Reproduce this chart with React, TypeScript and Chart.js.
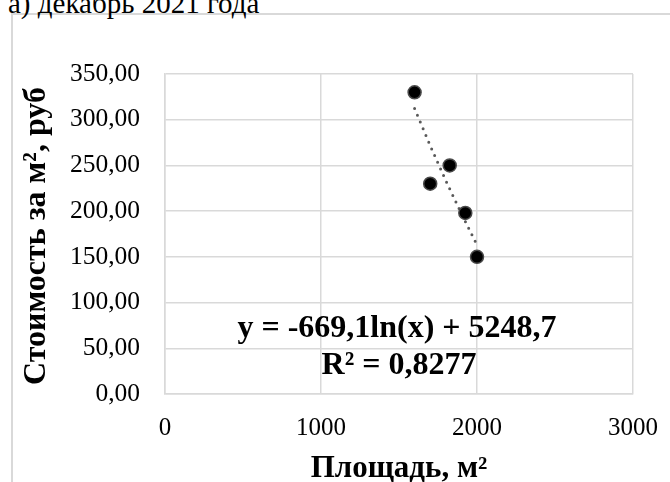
import React, { useEffect, useRef } from "react";
import { Chart, registerables } from "chart.js";

Chart.register(...registerables);

const titleText = "а) декабрь 2021 года";
const xTitle = "Площадь, м²";
const yTitle = "Стоимость за м², руб";
const equationLines = ["y = -669,1ln(x) + 5248,7", "R² = 0,8277"];

const areaX = [1600, 1700, 1825, 1925, 2000];
const priceY = [330, 230, 250, 198, 150];

const trendX = [1600, 1700, 1800, 1900, 2000];
const trendY = [312.2, 271.7, 233.4, 197.3, 162.9];

const xTicks = [0, 1000, 2000, 3000];
const yTicks = [0, 50, 100, 150, 200, 250, 300, 350];

const SERIF = "'Liberation Serif', 'Times New Roman', serif";
const GRID = "#d9d9d9";

const textPlugin = {
  id: "textPlugin",
  afterDraw(chart: any) {
    const { ctx, chartArea } = chart;
    const cx = (chartArea.left + chartArea.right) / 2;
    ctx.save();
    ctx.fillStyle = "#000";
    ctx.textAlign = "center";
    ctx.textBaseline = "alphabetic";
    // x title
    ctx.font = `bold 31px ${SERIF}`;
    ctx.fillText(xTitle, cx, 477);
    // y title
    ctx.save();
    ctx.translate(45, (chartArea.top + chartArea.bottom) / 2 + 2);
    ctx.rotate(-Math.PI / 2);
    ctx.font = `bold 32px ${SERIF}`;
    ctx.fillText(yTitle, 0, 0);
    ctx.restore();
    // equation
    ctx.font = `bold 32px ${SERIF}`;
    ctx.fillText(equationLines[0], cx - 2, 337);
    ctx.fillText(equationLines[1], cx, 374);
    ctx.restore();
  },
};

export default function App() {
  const ref = useRef<HTMLCanvasElement | null>(null);

  useEffect(() => {
    if (!ref.current) return;
    const chart = new Chart(ref.current, {
      type: "scatter",
      data: {
        datasets: [
          {
            label: "trend",
            data: trendX.map((x, i) => ({ x, y: trendY[i] })),
            showLine: true,
            borderColor: "#595959",
            borderWidth: 3,
            borderDash: [0, 7.3],
            borderCapStyle: "round",
            pointRadius: 0,
            fill: false,
            order: 2,
          } as any,
          {
            label: "data",
            data: areaX.map((x, i) => ({ x, y: priceY[i] })),
            backgroundColor: "#000",
            borderColor: "#4a4a4a",
            borderWidth: 1.5,
            pointRadius: 6.5,
            order: 1,
          },
        ],
      },
      options: {
        responsive: false,
        animation: false,
        layout: { padding: { left: 0, right: 37, top: 74, bottom: 0 } },
        plugins: {
          legend: { display: false },
          tooltip: { enabled: false },
        },
        scales: {
          x: {
            type: "linear",
            min: 0,
            max: 3000,
            afterFit(scale: any) {
              scale.height = 88;
              scale.paddingRight = 0;
              scale.paddingLeft = 0;
            },
            afterBuildTicks(scale: any) {
              scale.ticks = xTicks.map((v) => ({ value: v }));
            },
            ticks: {
              padding: 19,
              color: "#000",
              font: { family: SERIF, size: 25 },
              maxRotation: 0,
              callback: (v: any) => String(v),
            },
            grid: { color: GRID, lineWidth: 1.5, drawTicks: false },
            border: { color: GRID, width: 1.5 },
          },
          y: {
            type: "linear",
            min: 0,
            max: 350,
            afterFit(scale: any) {
              scale.width = 165;
            },
            afterBuildTicks(scale: any) {
              scale.ticks = yTicks.map((v) => ({ value: v }));
            },
            ticks: {
              padding: 25,
              color: "#000",
              font: { family: SERIF, size: 25.5 },
              callback: (v: any) => Number(v).toFixed(2).replace(".", ","),
            },
            grid: { color: GRID, lineWidth: 1.5, drawTicks: false },
            border: { color: GRID, width: 1.5 },
          },
        },
      },
      plugins: [textPlugin],
    });
    return () => chart.destroy();
  }, []);

  return (
    <div style={{ position: "fixed", left: 0, top: 0, width: 670, height: 482, overflow: "hidden", background: "#fff" }}>
      <div
        style={{
          position: "absolute",
          left: 11,
          top: 13,
          width: 720,
          height: 520,
          borderLeft: `2px solid ${GRID}`,
          borderTop: `2px solid ${GRID}`,
        }}
      />
      <div
        style={{
          position: "absolute",
          left: 8,
          top: -11,
          fontFamily: SERIF,
          fontSize: 29,
          lineHeight: "29px",
          color: "#000",
          whiteSpace: "nowrap",
        }}
      >
        {titleText}
      </div>
      <canvas ref={ref} width={670} height={482} style={{ position: "absolute", left: 0, top: 0 }} />
    </div>
  );
}
